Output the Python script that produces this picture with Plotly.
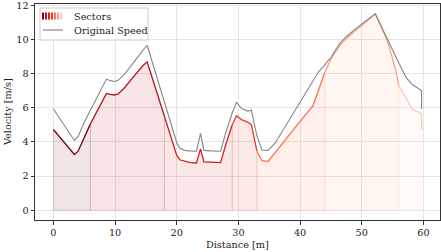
import plotly.graph_objects as go

# ---------------- data ----------------
distance = [0, 1, 2, 3, 3.4, 4, 5, 6, 7, 8, 8.6, 9.2, 9.9, 10.5, 11.5, 12.5, 13.5, 14.5, 15.2,
            16, 17, 18, 19, 20, 20.5, 21.3, 22, 23.2, 23.85, 24.4, 25.5, 27.1, 28, 29, 29.7,
            30.5, 31.5, 32.1, 32.6, 33, 33.8, 34.8, 36, 38, 40, 42.1, 43, 44, 45, 46.4, 47.5,
            49.1, 50.5, 51.5, 52.2, 53, 54, 54.5, 55.5, 56, 56.5, 57.2, 57.7, 58, 58.5, 59.3,
            59.7, 59.7]

original_speed = [5.92, 5.4, 4.85, 4.3, 4.08, 4.3, 5.15, 5.85, 6.55, 7.25, 7.67, 7.58, 7.53,
                  7.6, 7.95, 8.4, 8.9, 9.35, 9.65, 8.7, 7.5, 6.3, 5.1, 3.95, 3.62, 3.5, 3.47,
                  3.45, 4.5, 3.5, 3.47, 3.45, 4.6, 5.7, 6.31, 5.95, 5.8, 5.85, 5.0, 4.35, 3.52,
                  3.5, 3.95, 5.15, 6.35, 7.55, 8.1, 8.5, 8.95, 9.75, 10.15, 10.65, 11.05, 11.3,
                  11.49, 10.88, 10.1, 9.71, 9.0, 8.6, 8.25, 7.77, 7.55, 7.42, 7.28, 7.09,
                  7.0, 5.92]

sector_speed = [4.72, 4.3, 3.85, 3.42, 3.26, 3.45, 4.3, 5.05, 5.75, 6.45, 6.83, 6.78, 6.74,
                6.8, 7.15, 7.6, 8.05, 8.45, 8.68, 7.75, 6.6, 5.5, 4.35, 3.2, 2.95, 2.85, 2.8,
                2.76, 3.59, 2.82, 2.8, 2.78, 3.9, 5.0, 5.53, 5.3, 5.15, 5.01, 4.1, 3.45, 2.9,
                2.85, 3.4, 4.3, 5.2, 6.12, 7.0, 8.06, 8.85, 9.62, 10.05, 10.55, 11.0, 11.28,
                11.49, 10.85, 10.05, 9.5, 8.2, 7.3, 7.0, 6.5, 6.21, 5.98, 5.85, 5.72,
                5.65, 4.72]

sector_bounds = [0, 6, 18, 29, 33, 44, 56, 59.7]

x_ticks = [0, 10, 20, 30, 40, 50, 60]
y_ticks = [0, 2, 4, 6, 8, 10, 12]

# ---------------- styles ----------------
sector_colors = ['#7a0510', '#b8141b', '#d42020', '#ee3a2c', '#fb7555', '#fca081', '#fdc9b4']
FONT = "DejaVu Serif"
FS = 9.7


def rgba(hex_color, a):
    h = hex_color.lstrip('#')
    r, g, b = int(h[0:2], 16), int(h[2:4], 16), int(h[4:6], 16)
    return f"rgba({r},{g},{b},{a})"


fig = go.Figure()

# fills per sector
for i in range(len(sector_bounds) - 1):
    a, b = sector_bounds[i], sector_bounds[i + 1]
    idx = [k for k, d in enumerate(distance) if a <= d <= b]
    sx = [distance[k] for k in idx]
    sy = [sector_speed[k] for k in idx]
    col = sector_colors[i]
    fig.add_trace(go.Scatter(
        x=[a] + sx + [b, a], y=[0] + sy + [0, 0],
        mode='lines', fill='toself', fillcolor=rgba(col, 0.11),
        line=dict(color=rgba(col, 0.13), width=1),
        hoverinfo='skip', showlegend=False))

# sector lines
for i in range(len(sector_bounds) - 1):
    a, b = sector_bounds[i], sector_bounds[i + 1]
    idx = [k for k, d in enumerate(distance) if a <= d <= b]
    fig.add_trace(go.Scatter(
        x=[distance[k] for k in idx], y=[sector_speed[k] for k in idx],
        mode='lines', line=dict(color=sector_colors[i], width=1.3),
        showlegend=False))

# original speed
fig.add_trace(go.Scatter(
    x=distance, y=original_speed, mode='lines',
    line=dict(color='rgba(128,128,128,0.95)', width=1.1), showlegend=False))

# ---------------- layout ----------------
L, R, T, B = 35, 1, 4, 32
W, H = 441, 252
PW, PH = W - L - R, H - T - B


def px(xp):
    return (xp - L) / PW


def py(yp):
    return (T + PH - yp) / PH


shapes = []
# legend box
shapes.append(dict(type='rect', xref='paper', yref='paper',
                   x0=px(40), x1=px(148), y0=py(40), y1=py(8),
                   line=dict(color='#cccccc', width=1), fillcolor='rgba(255,255,255,0.85)',
                   layer='above'))
# legend colour bars
for i, col in enumerate(sector_colors):
    x0 = 42 + i * 3
    shapes.append(dict(type='rect', xref='paper', yref='paper',
                       x0=px(x0), x1=px(x0 + 2), y0=py(19.5), y1=py(12.5),
                       line=dict(width=0), fillcolor=col, layer='above'))
# legend gray line
shapes.append(dict(type='line', xref='paper', yref='paper',
                   x0=px(43), x1=px(63), y0=py(30), y1=py(30),
                   line=dict(color='gray', width=1.1), layer='above'))

annotations = [
    dict(text='Sectors', xref='paper', yref='paper', x=px(72), y=py(16), xanchor='left',
         yanchor='middle', showarrow=False, font=dict(family=FONT, size=FS, color='#222')),
    dict(text='Original Speed', xref='paper', yref='paper', x=px(72), y=py(30.5),
         xanchor='left', yanchor='middle', showarrow=False,
         font=dict(family=FONT, size=FS, color='#222')),
    dict(text='Distance [m]', xref='paper', yref='paper', x=0.5, y=py(244.5), xanchor='center',
         yanchor='middle', showarrow=False, font=dict(family=FONT, size=FS, color='#222')),
    dict(text='Velocity [m/s]', xref='paper', yref='paper', x=px(7), y=0.5, xanchor='center',
         yanchor='middle', textangle=-90, showarrow=False,
         font=dict(family=FONT, size=FS, color='#222')),
]

axis_common = dict(showline=True, mirror=True, linecolor='#333333', linewidth=1,
                   ticks='outside', ticklen=3.5, tickwidth=1, tickcolor='#333333',
                   showgrid=True, gridcolor='rgba(200,200,200,0.45)', gridwidth=0.8,
                   zeroline=False, ticklabeloverflow='allow',
                   tickfont=dict(family=FONT, size=FS, color='#222'))

fig.update_layout(
    width=W, height=H,
    margin=dict(l=L, r=R, t=T, b=B),
    paper_bgcolor='white', plot_bgcolor='white',
    showlegend=False,
    shapes=shapes, annotations=annotations,
    xaxis=dict(range=[-2.985, 62.685], tickvals=x_ticks, **axis_common),
    yaxis=dict(range=[-0.575, 12.065], tickvals=y_ticks, **axis_common),
)

fig.write_html("out.html", config={'displayModeBar': False},
               post_script="document.body.style.margin='0';document.body.style.padding='0';")
